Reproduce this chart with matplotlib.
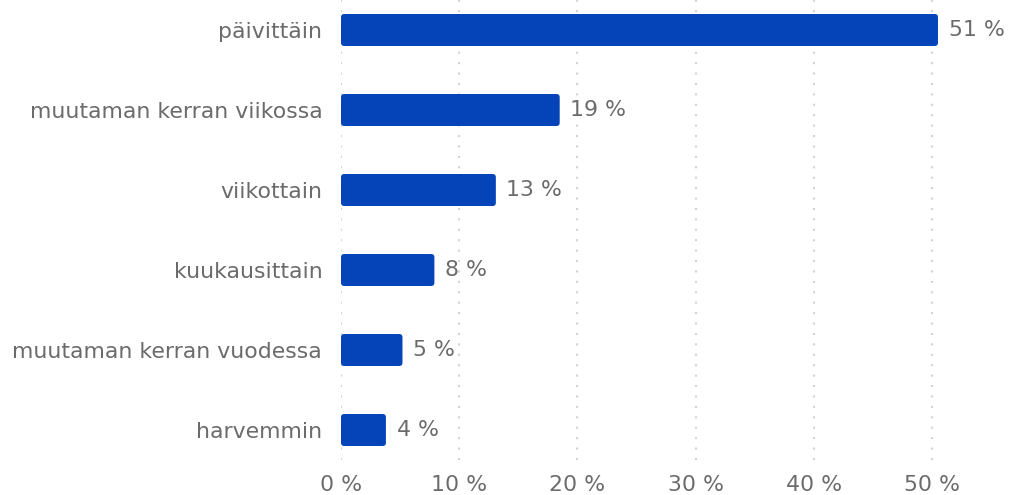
import matplotlib.pyplot as plt
from matplotlib.patches import FancyBboxPatch

categories = ["päivittäin", "muutaman kerran viikossa", "viikottain",
              "kuukausittain", "muutaman kerran vuodessa", "harvemmin"]
values = [50.5, 18.5, 13.1, 7.9, 5.2, 3.8]
labels = ["51 %", "19 %", "13 %", "8 %", "5 %", "4 %"]
xticks = [0, 10, 20, 30, 40, 50]

plt.rcParams["font.family"] = ["DejaVu Sans"]
fig = plt.figure(figsize=(10.1, 4.95), dpi=100)
ax = fig.add_axes([341 / 1010, 35 / 495, 662 / 1010, 460 / 495])

xmax = 56
ax.set_xlim(0, xmax)
ax.set_ylim(len(categories) - 0.625, -0.375)

fs = 15.8
bar_h = 0.4
px_x = 662 / xmax
px_y = 460 / 5.75
aspect = px_x / px_y
for i, v in enumerate(values):
    p = FancyBboxPatch((0, i - bar_h / 2), v, bar_h,
                       boxstyle="round,pad=0,rounding_size=0.28",
                       mutation_aspect=aspect,
                       facecolor="#0444b8", edgecolor="none", zorder=3)
    ax.add_patch(p)
    ax.text(v + 0.9, i, labels[i], va="center", ha="left",
            fontsize=fs, color="#6b6b6b")

ax.set_yticks(range(len(categories)))
ax.set_yticklabels(categories, fontsize=fs, color="#6b6b6b")
ax.set_xticks(xticks)
ax.set_xticklabels([f"{t} %" for t in xticks], fontsize=fs, color="#6b6b6b")
ax.tick_params(axis="both", length=0)
ax.tick_params(axis="y", pad=13.5)
ax.tick_params(axis="x", pad=11)

for t in xticks:
    ax.axvline(t, color="#d2d2d2", linewidth=1.5,
               linestyle=(0, (1, 4)), zorder=1)

for s in ax.spines.values():
    s.set_visible(False)

fig.savefig("out.png", dpi=100)
